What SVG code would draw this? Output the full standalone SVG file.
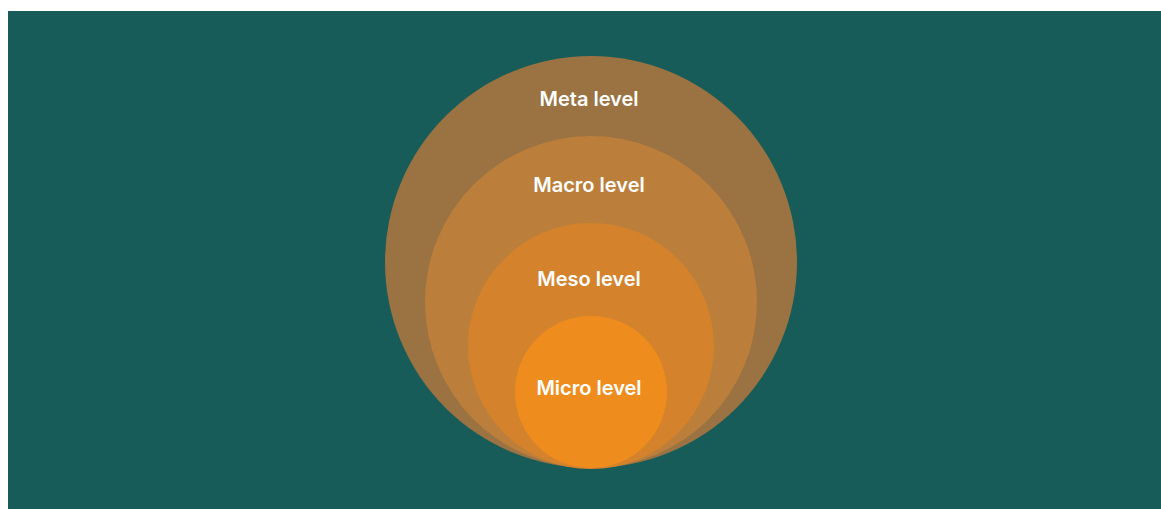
<svg xmlns="http://www.w3.org/2000/svg" width="1161" height="509" viewBox="0 0 1161 509">
  <style>
    .label { font-family: Inter, "Open Sans", "Liberation Sans", sans-serif; font-size: 20px; font-weight: 600; fill: #ffffff; text-anchor: middle; }
  </style>
  <rect x="0" y="0" width="1161" height="509" fill="#ffffff"/>
  <rect x="8" y="11" width="1153" height="498" fill="#175C58"/>
  <g id="meta">
    <circle cx="591" cy="262" r="206" fill="#9B7241"/>
    <text class="label" x="589" y="106">Meta level</text>
  </g>
  <g id="macro">
    <circle cx="591" cy="302" r="166" fill="#BB7F3B"/>
    <text class="label" x="589" y="192">Macro level</text>
  </g>
  <g id="meso">
    <circle cx="591" cy="346" r="123" fill="#D4832C"/>
    <text class="label" x="589" y="286">Meso level</text>
  </g>
  <g id="micro">
    <circle cx="591" cy="392" r="76" fill="#EE8D1E"/>
    <text class="label" x="589" y="395">Micro level</text>
  </g>
</svg>
